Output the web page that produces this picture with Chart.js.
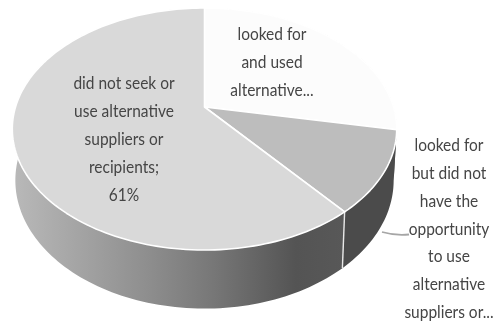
<!DOCTYPE html>
<html>
<head>
<meta charset="utf-8">
<style>
  html, body { margin: 0; padding: 0; background: #fff; }
  canvas { display: block; filter: blur(0.45px); }
</style>
<script src="https://cdn.jsdelivr.net/npm/chart.js@4/dist/chart.umd.min.js"></script>
</head>
<body>
<canvas id="pie" width="497" height="324"></canvas>
<script>
const CATEGORIES = [
  'looked for and used alternative suppliers or recipients',
  'looked for but did not have the opportunity to use alternative suppliers or recipients',
  'did not seek or use alternative suppliers or recipients'
];
const VALUES = [28, 11, 61];
const LABEL_USED = ['looked for', 'and used', 'alternative...'];
const LABEL_NO_CHANCE = ['looked for', 'but did not', 'have the', 'opportunity', 'to use', 'alternative', 'suppliers or...'];
const LABEL_NOT_SOUGHT = ['did not seek or', 'use alternative', 'suppliers or', 'recipients;', '61%'];

const TOP_COLORS = ['#fcfcfc', '#bdbdbd', '#d9d9d9'];

// ─── Tilted disc: pie angle -> screen point, with perspective ───
const TILT = 0.182;
const TOP_DISC = { cx: 204.5, cy: 107, ax: 189, ay: 117 };
const BOTTOM_DISC = { cx: 204.5, cy: 157, ax: 186, ay: 124 };

function project(disc, angle) {
  const s = Math.cos(angle);
  const c = Math.sin(angle);
  const w = 1 - TILT * c;
  return { x: disc.cx + disc.ax * s / w, y: disc.cy + disc.ay * c / w };
}

function rimPoints(disc, from, to) {
  const pts = [];
  const steps = Math.max(4, Math.ceil((to - from) * 40));
  for (let i = 0; i <= steps; i++) pts.push(project(disc, from + (to - from) * i / steps));
  return pts;
}

function sideFill(ctx, i) {
  if (i === 1) return '#4b4b4b';
  const g = ctx.createLinearGradient(16, 0, 345, 0);
  g.addColorStop(0, '#b8b8b8');
  g.addColorStop(0.4, '#8e8e8e');
  g.addColorStop(0.6, '#777777');
  g.addColorStop(0.85, '#545454');
  g.addColorStop(1, '#585858');
  return g;
}

// narrow face: the reference text is tall and condensed
function drawLines(ctx, lines, cx, y0, step) {
  ctx.save();
  ctx.translate(cx, y0);
  ctx.scale(0.86, 1);
  lines.forEach((t, i) => ctx.fillText(t, 0, i * step));
  ctx.restore();
}

// ─── Draws the arcs Chart.js laid out, as a 3D tilted pie ───
const tiltedPie = {
  id: 'tiltedPie',
  beforeDatasetsDraw(chart) {
    const ctx = chart.ctx;
    const arcs = chart.getDatasetMeta(0).data;
    ctx.save();

    // sides first, the top disc covers whatever is at the back
    arcs.forEach((arc, i) => {
      const top = rimPoints(TOP_DISC, arc.startAngle, arc.endAngle);
      const bottom = rimPoints(BOTTOM_DISC, arc.startAngle, arc.endAngle).reverse();
      ctx.beginPath();
      top.concat(bottom).forEach(p => ctx.lineTo(p.x, p.y));
      ctx.closePath();
      ctx.fillStyle = sideFill(ctx, i);
      ctx.fill();
    });

    // white seam down the side between the two front slices
    const seamTop = project(TOP_DISC, arcs[2].startAngle);
    const seamBottom = project(BOTTOM_DISC, arcs[2].startAngle);
    ctx.beginPath();
    ctx.moveTo(seamTop.x, seamTop.y);
    ctx.lineTo(seamBottom.x, seamBottom.y);
    ctx.strokeStyle = '#e8e8e8';
    ctx.lineWidth = 1.4;
    ctx.stroke();

    arcs.forEach((arc, i) => {
      ctx.beginPath();
      ctx.moveTo(TOP_DISC.cx, TOP_DISC.cy);
      rimPoints(TOP_DISC, arc.startAngle, arc.endAngle).forEach(p => ctx.lineTo(p.x, p.y));
      ctx.closePath();
      ctx.fillStyle = TOP_COLORS[i];
      ctx.fill();
      ctx.strokeStyle = '#ffffff';
      ctx.lineWidth = 1.6;
      ctx.lineJoin = 'round';
      ctx.stroke();
    });

    ctx.restore();
    return false;
  },
  afterDraw(chart) {
    const ctx = chart.ctx;
    ctx.save();

    // leader line
    ctx.beginPath();
    ctx.moveTo(382, 232);
    ctx.quadraticCurveTo(396, 236, 409, 234.5);
    ctx.strokeStyle = '#a6a6a6';
    ctx.lineWidth = 1.8;
    ctx.stroke();

    ctx.fillStyle = '#454545';
    ctx.textAlign = 'center';
    ctx.textBaseline = 'middle';
    ctx.font = '18px Lato';
    drawLines(ctx, LABEL_USED, 272, 34, 28.3);
    drawLines(ctx, LABEL_NOT_SOUGHT, 124, 83, 28);
    drawLines(ctx, LABEL_NO_CHANCE, 449, 145, 27.9);
    ctx.restore();
  }
};

new Chart(document.getElementById('pie').getContext('2d'), {
  type: 'pie',
  data: {
    labels: CATEGORIES,
    datasets: [{ data: VALUES, backgroundColor: TOP_COLORS }]
  },
  options: {
    animation: false,
    responsive: false,
    rotation: 0,
    plugins: { legend: { display: false }, tooltip: { enabled: false } }
  },
  plugins: [tiltedPie]
});
</script>
</body>
</html>
